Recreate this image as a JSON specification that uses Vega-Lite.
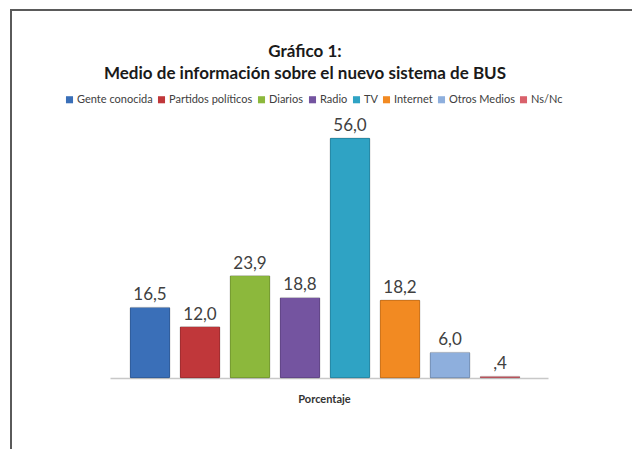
{
  "$schema": "https://vega.github.io/schema/vega-lite/v6.json",
  "width": 640,
  "height": 460,
  "autosize": "none",
  "padding": {"left": 11, "top": 10, "right": -19, "bottom": -21},
  "background": "white",
  "config": {
    "view": {"stroke": "#5a5a5a", "strokeWidth": 2},
    "font": "Lato"
  },
  "title": {
    "text": ["Gráfico 1:", "Medio de información sobre el nuevo sistema de BUS"],
    "anchor": "start",
    "align": "center",
    "dx": 294,
    "offset": -73,
    "font": "Lato",
    "fontSize": 17,
    "fontWeight": "bold",
    "lineHeight": 22,
    "color": "#1a1a1a"
  },
  "data": {
    "values": [
      {"medio": "Gente conocida", "valor": 16.5, "etiqueta": "16,5"},
      {"medio": "Partidos políticos", "valor": 12.0, "etiqueta": "12,0"},
      {"medio": "Diarios", "valor": 23.9, "etiqueta": "23,9"},
      {"medio": "Radio", "valor": 18.8, "etiqueta": "18,8"},
      {"medio": "TV", "valor": 56.0, "etiqueta": "56,0"},
      {"medio": "Internet", "valor": 18.2, "etiqueta": "18,2"},
      {"medio": "Otros Medios", "valor": 6.0, "etiqueta": "6,0"},
      {"medio": "Ns/Nc", "valor": 0.4, "etiqueta": ",4"}
    ]
  },
  "encoding": {
    "x": {
      "field": "medio",
      "type": "nominal",
      "sort": null,
      "scale": {"range": [99, 537], "paddingInner": 0.2, "paddingOuter": 0.48, "align": 0.4167},
      "axis": {
        "orient": "bottom",
        "offset": -92,
        "labels": false,
        "ticks": false,
        "domainColor": "#c8c8c8",
        "domainWidth": 1.5,
        "title": "Porcentaje",
        "titleX": 313,
        "titleFont": "Lato",
        "titleFontSize": 11,
        "titleFontWeight": "bold",
        "titleColor": "#333333",
        "titlePadding": 15
      }
    },
    "y": {
      "field": "valor",
      "type": "quantitative",
      "scale": {"domain": [0, 56], "range": [368, 128], "nice": false},
      "axis": null
    }
  },
  "layer": [
    {
      "mark": {"type": "bar", "cornerRadius": 1, "stroke": "#000000", "strokeOpacity": 0.15, "strokeWidth": 1},
      "encoding": {
        "color": {
          "field": "medio",
          "type": "nominal",
          "sort": null,
          "scale": {
            "domain": ["Gente conocida", "Partidos políticos", "Diarios", "Radio", "TV", "Internet", "Otros Medios", "Ns/Nc"],
            "range": ["#3a6fb8", "#c0373a", "#8cb83c", "#7454a0", "#2fa3c4", "#f28a22", "#8eafdd", "#d9616b"]
          },
          "legend": {
            "orient": "none",
            "legendX": 53,
            "legendY": 84,
            "title": null,
            "direction": "horizontal",
            "columns": 8,
            "columnPadding": 3,
            "symbolType": "square",
            "symbolSize": 50,
            "symbolStrokeWidth": 0,
            "labelFont": "Lato",
            "labelFontSize": 11,
            "labelColor": "#404040",
            "labelOffset": 2
          }
        }
      }
    },
    {
      "mark": {"type": "text", "baseline": "alphabetic", "dy": -7, "fontSize": 17, "font": "Lato", "color": "#404040"},
      "encoding": {"text": {"field": "etiqueta"}}
    }
  ]
}
